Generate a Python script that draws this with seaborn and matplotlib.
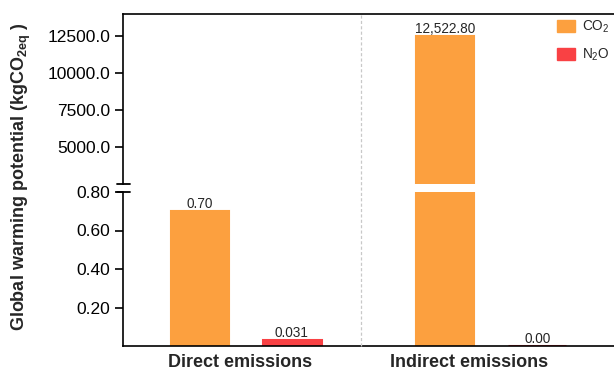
import matplotlib
matplotlib.use("Agg")
import matplotlib.pyplot as plt
from matplotlib.lines import Line2D
from matplotlib.patches import Patch
from matplotlib import transforms
import seaborn as sns
import pandas as pd

# ---- data -------------------------------------------------------------
categories = ["Direct emissions", "Indirect emissions"]
gases = ["CO2", "N2O"]
co2_values = [0.70, 12522.80]
n2o_values = [0.031, 0.00]
co2_label_fmt = ["{:.2f}", "{:,.2f}"]
n2o_label_fmt = ["{:.3f}", "{:.2f}"]
upper_ticks = [5000, 7500, 10000, 12500]
lower_ticks = [0.20, 0.40, 0.60, 0.80]
upper_ylim = (2500, 14000)
lower_ylim = (0, 0.80)

gas_colors = {"CO2": "#FCA03F", "N2O": "#F94144"}
legend_labels = {"CO2": r"CO$\mathregular{_2}$", "N2O": r"N$\mathregular{_2}$O"}

df = pd.DataFrame({
    "category": categories * 2,
    "gas": [gases[0]] * len(categories) + [gases[1]] * len(categories),
    "value": co2_values + n2o_values,
})

# ---- style ------------------------------------------------------------
sns.set_style("ticks")
plt.rcParams["font.family"] = ["Liberation Sans", "DejaVu Sans"]
plt.rcParams["mathtext.fontset"] = "custom"
plt.rcParams["mathtext.rm"] = "Liberation Sans"
plt.rcParams["mathtext.bf"] = "Liberation Sans:bold"
plt.rcParams["axes.linewidth"] = 1.2
plt.rcParams["axes.edgecolor"] = "black"

W, H = 614, 373
fig = plt.figure(figsize=(W / 100, H / 100), dpi=100)

def fx(px):
    return px / W

def fy(py):
    return 1 - py / H

left, right = fx(123), 1.0
ax_top = fig.add_axes([left, fy(184), right - left, fy(14) - fy(184)])
ax_bot = fig.add_axes([left, fy(346), right - left, fy(192) - fy(346)])

for ax in (ax_top, ax_bot):
    ax.set_facecolor("none")
    sns.barplot(data=df, x="category", y="value", hue="gas", order=categories,
                hue_order=gases, palette=gas_colors, width=0.748, gap=0.37,
                linewidth=1.5, saturation=1, legend=False, ax=ax)
    for cont in ax.containers:
        for bar in cont:
            bar.set_edgecolor(bar.get_facecolor())
    ax.set_xlim(-0.5, 1.5)
    ax.set_xlabel("")
    ax.set_ylabel("")
    ax.tick_params(axis="y", length=6, width=1.2, pad=3, labelsize=12.5, colors="black")
    ax.tick_params(axis="x", length=0)

# thin N2O bars get a heavier outline so they stay visible near zero
for bar in ax_bot.containers[1]:
    bar.set_linewidth(2.2)

# upper panel: large values
ax_top.set_ylim(*upper_ylim)
ax_top.set_yticks(upper_ticks)
ax_top.set_yticklabels([f"{v:.1f}" for v in upper_ticks])
ax_top.set_xticks([])
ax_top.spines["bottom"].set_visible(False)
ax_top.spines["right"].set_visible(False)

# lower panel: small values
ax_bot.set_ylim(*lower_ylim)
ax_bot.set_yticks(lower_ticks)
ax_bot.set_yticklabels([f"{v:.2f}" for v in lower_ticks])
ax_bot.spines["top"].set_visible(False)
ax_bot.spines["right"].set_visible(False)
ax_bot.set_xticks([-0.025, 0.91])
ax_bot.set_xticklabels(categories, fontsize=13, fontweight="bold")
ax_bot.tick_params(axis="x", pad=5.5)

# value labels on the panel where each bar top lies
co2_cont_top = ax_top.containers[0]
co2_cont_bot, n2o_cont_bot = ax_bot.containers[0], ax_bot.containers[1]
top_co2 = [fmt.format(v) if v > lower_ylim[1] else "" for v, fmt in zip(co2_values, co2_label_fmt)]
bot_co2 = [fmt.format(v) if v <= lower_ylim[1] else "" for v, fmt in zip(co2_values, co2_label_fmt)]
bot_n2o = [fmt.format(v) for v, fmt in zip(n2o_values, n2o_label_fmt)]
ax_top.bar_label(co2_cont_top, labels=top_co2, padding=0, fontsize=9.8)
ax_bot.bar_label(co2_cont_bot, labels=bot_co2, padding=0, fontsize=9.8)
ax_bot.bar_label(n2o_cont_bot, labels=bot_n2o, padding=0, fontsize=9.8)

# separator between the two emission groups, spanning both panels
sep = transforms.blended_transform_factory(ax_bot.transData, fig.transFigure)
fig.add_artist(Line2D([0.47, 0.47], [fy(346), fy(15)], transform=sep,
                      color="#c8c8c8", lw=0.9, linestyle=(0, (2.5, 1.8)), zorder=3))

# axis break marks
for py in (184, 192):
    fig.add_artist(Line2D([fx(117), fx(129.5)], [fy(py), fy(py)],
                          color="black", lw=1.3, zorder=3))

# legend
handles = [Patch(facecolor=gas_colors[g], edgecolor=gas_colors[g]) for g in gases]
fig.legend(handles, [legend_labels[g] for g in gases], loc="upper left",
           bbox_to_anchor=(fx(557), fy(19)), frameon=False, fontsize=9.8,
           handlelength=1.35, handleheight=1.0, handletextpad=0.5,
           labelspacing=0.85, borderpad=0, borderaxespad=0)

# y-axis title
fig.text(fx(21), fy(177), r"Global warming potential (kgCO$\mathbf{_{2eq}}$ )",
         rotation=90, ha="center", va="center", fontsize=13, fontweight="bold")

fig.savefig("out.png", dpi=100)
